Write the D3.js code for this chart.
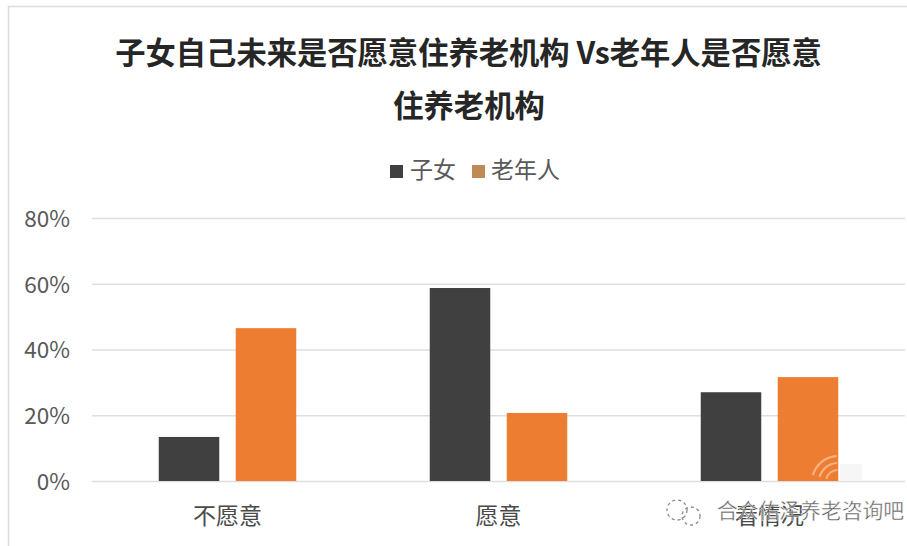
<!DOCTYPE html>
<html>
<head>
<meta charset="utf-8">
<script src="https://cdn.jsdelivr.net/npm/d3@7/dist/d3.min.js"></script>
<style>
html,body{margin:0;padding:0;background:#fff;overflow:hidden}
text{font-family:"Noto Sans CJK SC","Noto Sans",sans-serif}
</style>
</head>
<body>
<svg id="chart" width="907" height="546"></svg>
<script>
const categories = ["不愿意", "愿意", "看情况"];
const seriesNames = ["子女", "老年人"];
const childValues = [13.4, 58.7, 27];
const elderValues = [46.5, 20.7, 31.6];
const yTicks = [0, 20, 40, 60, 80];
const titleLines = ["子女自己未来是否愿意住养老机构 Vs老年人是否愿意", "住养老机构"];
const colors = ["#404040", "#ed7d31"];
const signature = "合众佑泽养老咨询吧";

const svg = d3.select("#chart");

// Outer frame of the chart card
svg.append("path")
  .attr("d", "M8.5,546V6.5H907")
  .attr("fill", "none").attr("stroke", "#dcdcdc").attr("stroke-width", 1.5);

const y = d3.scaleLinear().domain([0, 80]).range([481, 218]);
const x0 = d3.scaleBand().domain(categories).range([92, 905]).paddingInner(0.4926).paddingOuter(0.2463);
const x1 = d3.scaleBand().domain(seriesNames).range([0, x0.bandwidth()]).paddingInner(0.214);

// Gridlines and percentage labels
const yAxis = d3.axisLeft(y).tickValues(yTicks).tickFormat(d => d + "%").tickSize(-813).tickPadding(22);
const gy = svg.append("g").attr("transform", "translate(92,0)").call(yAxis);
gy.select(".domain").remove();
gy.selectAll(".tick line").attr("stroke", "#dedede").attr("stroke-width", 1.5);
gy.selectAll(".tick text").attr("fill", "#595959").attr("font-size", 22.5).attr("dy", "0.37em");

// Category labels below the baseline
const xAxis = d3.axisBottom(x0).tickSize(0).tickPadding(27);
const gx = svg.append("g").attr("transform", "translate(0,481)").call(xAxis);
gx.select(".domain").remove();
gx.selectAll(".tick text").attr("fill", "#4a4a4a").attr("font-size", 23);

// Clustered bars
const rows = categories.map((c, i) => ({c, vals: [childValues[i], elderValues[i]]}));
svg.append("g").selectAll("g").data(rows).join("g")
  .attr("transform", d => `translate(${x0(d.c)},0)`)
  .selectAll("rect").data(d => d.vals.map((v, j) => ({v, s: seriesNames[j], j}))).join("rect")
  .attr("x", d => x1(d.s))
  .attr("y", d => y(d.v))
  .attr("width", x1.bandwidth())
  .attr("height", d => y(0) - y(d.v))
  .attr("fill", d => colors[d.j]);

// Two-line title
svg.append("g").selectAll("text").data(titleLines).join("text")
  .attr("x", (d, i) => i === 0 ? 468.5 : 469)
  .attr("y", (d, i) => i === 0 ? 64 : 117)
  .attr("text-anchor", "middle")
  .attr("font-size", 30.3)
  .attr("font-weight", 700)
  .attr("fill", "#262626")
  .text(d => d);

// Legend
const legendItems = [
  {name: seriesNames[0], sx: 390, tx: 410},
  {name: seriesNames[1], sx: 472, tx: 491}
];
const legend = svg.append("g");
legend.selectAll("rect").data(legendItems).join("rect")
  .attr("x", d => d.sx).attr("y", 165).attr("width", 13).attr("height", 13)
  .attr("fill", (d, i) => i === 0 ? colors[0] : "#c08a55");
legend.selectAll("text").data(legendItems).join("text")
  .attr("x", d => d.tx).attr("y", 178)
  .attr("font-size", 23).attr("fill", "#595959")
  .text(d => d.name);

// Account signature stamped across the lower right corner
const stamp = svg.append("g");
const stampIcon = stamp.append("g").attr("fill", "none").attr("stroke", "#8a8a8a").attr("stroke-width", 1.3).attr("stroke-dasharray", "3 3");
stampIcon.append("circle").attr("cx", 677).attr("cy", 510).attr("r", 10);
stampIcon.append("circle").attr("cx", 691).attr("cy", 516).attr("r", 9);
stamp.append("text")
  .attr("x", 717).attr("y", 518)
  .attr("font-size", 21).attr("fill", "#5c5c5c").attr("stroke", "#fff").attr("stroke-width", 0.4)
  .attr("textLength", 187).attr("lengthAdjust", "spacingAndGlyphs")
  .text(signature);

// Faint broadcast arcs of the stamp over the last bar
const arcs = svg.append("g").attr("fill", "none").attr("stroke", "#f6b184").attr("stroke-width", 2.2);
[12, 19, 26].forEach(r => {
  arcs.append("path").attr("d", d3.arc()({innerRadius: r, outerRadius: r, startAngle: -Math.PI / 2.4, endAngle: -0.05}))
    .attr("transform", "translate(838,482)");
});
svg.append("rect").attr("x", 840).attr("y", 464).attr("width", 22).attr("height", 16).attr("fill", "#f0f0f0").attr("opacity", 0.6);
</script>
</body>
</html>
